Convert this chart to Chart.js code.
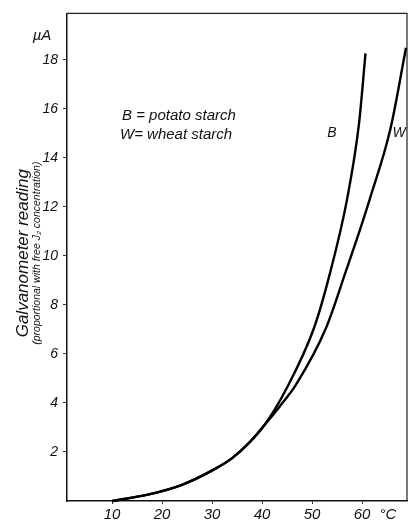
<!DOCTYPE html>
<html>
<head>
<meta charset="utf-8">
<script src="https://cdn.jsdelivr.net/npm/chart.js@4.4.1/dist/chart.umd.min.js"></script>
<style>
  html, body { margin: 0; padding: 0; background: #fff; }
  #wrap { width: 411px; height: 530px; position: relative; }
</style>
</head>
<body>
<div id="wrap"><canvas id="c" width="411" height="530"></canvas></div>
<script>
// Temperature (°C) and galvanometer reading (µA) for both starches
const tempB  = [10, 17.4, 24, 30.7, 34.1, 37.4, 40.5, 44.8, 50.4, 53.6, 57, 59.4, 60.7];
const valueB = [0, 0.27, 0.66, 1.32, 1.76, 2.37, 3.1, 4.55, 7.06, 9.3, 12.3, 15.4, 18.27];
const tempW  = [10, 17.4, 24, 30.7, 34.1, 37.4, 40.5, 43.5, 46.8, 52.8, 56.9, 59.4, 61.6, 65.7, 68.8];
const valueW = [0, 0.27, 0.66, 1.32, 1.76, 2.37, 3.1, 3.85, 4.75, 7.06, 9.45, 10.95, 12.35, 15.2, 18.5];

const xTicks = [10, 20, 30, 40, 50, 60];
const yTicks = [2, 4, 6, 8, 10, 12, 14, 16, 18];

const legendLines = ['B = potato starch', 'W= wheat starch'];
const curveNames = ['B', 'W'];
const yTitle = 'Galvanometer reading';
const ySubtitle = '(proportional with free J\u2082 concentration)';
const xUnit = '°C';
const yUnit = '\u00B5A';

const FONT = '"Liberation Sans", Arial, sans-serif';

const toPoints = (xs, ys) => xs.map((x, i) => ({ x: x, y: ys[i] }));

const annotations = {
  id: 'annotations',
  afterDraw(chart) {
    const { ctx, chartArea: a, scales: { x, y } } = chart;
    ctx.save();
    // frame around the plot
    ctx.strokeStyle = '#222';
    ctx.lineWidth = 1.2;
    ctx.beginPath();
    ctx.moveTo(a.left, a.top);
    ctx.lineTo(a.right, a.top);
    ctx.lineTo(a.right, a.bottom);
    ctx.stroke();

    ctx.fillStyle = '#111';
    ctx.textBaseline = 'middle';
    // units
    ctx.font = 'italic 15px ' + FONT;
    ctx.textAlign = 'center';
    ctx.fillText(xUnit, x.getPixelForValue(65.2), a.bottom + 14);
    ctx.fillText(yUnit, 42, y.getPixelForValue(19.0));

    // key
    ctx.textAlign = 'left';
    ctx.font = 'italic 15px ' + FONT;
    ctx.fillText(legendLines[0], 122, 116);
    ctx.fillText(legendLines[1], 120, 135);

    // curve names
    ctx.textAlign = 'center';
    ctx.font = 'italic 14px ' + FONT;
    ctx.fillText(curveNames[0], 332, 133);
    ctx.fillText(curveNames[1], 399, 133);

    // rotated axis title
    const cy = (a.top + a.bottom) / 2 - 4;
    ctx.save();
    ctx.translate(23, cy);
    ctx.rotate(-Math.PI / 2);
    ctx.font = 'italic 17px ' + FONT;
    ctx.fillText(yTitle, 0, 0);
    ctx.restore();
    ctx.save();
    ctx.translate(37, cy);
    ctx.rotate(-Math.PI / 2);
    ctx.font = 'italic 10.5px ' + FONT;
    ctx.fillText(ySubtitle, 0, 0);
    ctx.restore();
    ctx.restore();
  }
};

new Chart(document.getElementById('c'), {
  type: 'scatter',
  data: {
    datasets: [
      { label: 'B', data: toPoints(tempB, valueB) },
      { label: 'W', data: toPoints(tempW, valueW) }
    ].map(d => Object.assign(d, {
      showLine: true,
      borderColor: '#000',
      borderWidth: 2.4,
      pointRadius: 0,
      cubicInterpolationMode: 'monotone',
      fill: false
    }))
  },
  options: {
    responsive: false,
    animation: false,
    clip: false,
    layout: { padding: { top: 13, right: 4, left: 0, bottom: 0 } },
    plugins: { legend: { display: false }, tooltip: { enabled: false } },
    scales: {
      x: {
        type: 'linear',
        min: 1, max: 69,
        afterBuildTicks: s => { s.ticks = xTicks.map(v => ({ value: v })); },
        afterFit: s => { s.height = 29; },
        border: { display: true, color: '#111', width: 1.5 },
        grid: { display: true, drawOnChartArea: false, drawTicks: true, tickLength: 3, color: '#333' },
        ticks: {
          padding: 2,
          maxRotation: 0,
          color: '#111',
          font: { family: FONT, size: 15, style: 'italic' }
        }
      },
      y: {
        type: 'linear',
        min: 0, max: 19.9,
        afterBuildTicks: s => { s.ticks = yTicks.map(v => ({ value: v })); },
        afterFit: s => { s.width = 67; },
        border: { display: true, color: '#111', width: 1.5 },
        grid: { display: true, drawOnChartArea: false, drawTicks: true, tickLength: 4, color: '#333' },
        ticks: {
          padding: 5,
          color: '#111',
          font: { family: FONT, size: 14, style: 'italic' }
        }
      }
    }
  },
  plugins: [annotations]
});
</script>
</body>
</html>
